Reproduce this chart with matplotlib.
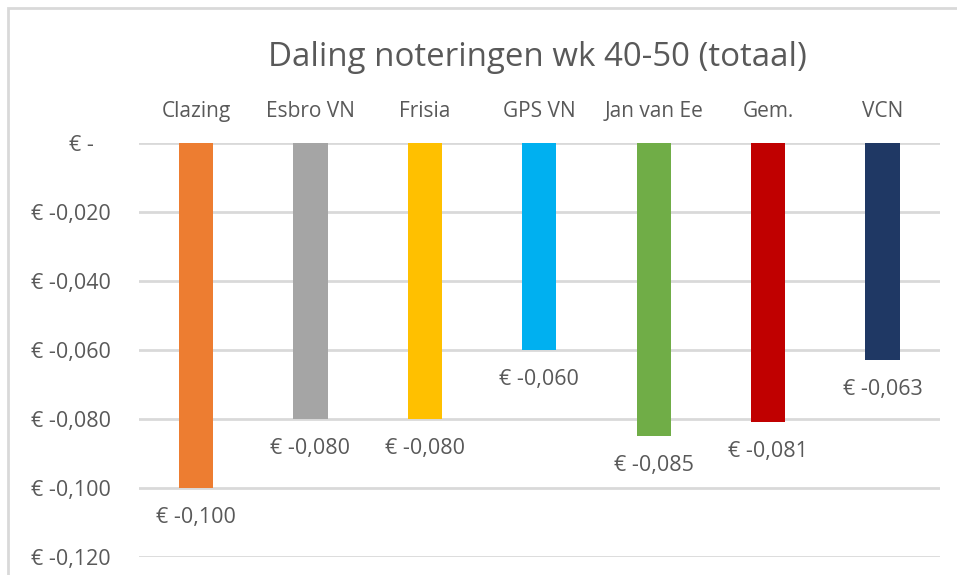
import matplotlib
matplotlib.use("Agg")
from matplotlib import pyplot as plt
from matplotlib.patches import Rectangle

plt.rcParams["font.family"] = ["Open Sans", "DejaVu Sans"]

# data
categories = ["Clazing", "Esbro VN", "Frisia", "GPS VN", "Jan van Ee", "Gem.", "VCN"]
values = [-0.100, -0.080, -0.080, -0.060, -0.085, -0.081, -0.063]
colors = ["#ED7D31", "#A5A5A5", "#FFC000", "#00B0F0", "#70AD47", "#C00000", "#1F3864"]
yticks = [0, -0.02, -0.04, -0.06, -0.08, -0.10, -0.12]

textGrey = "#595959"
gridGrey = "#D9D9D9"


def euro(v):
    if v == 0:
        return "€ -   "
    return "€ " + ("%.3f" % v).replace(".", ",")


fig = plt.figure(figsize=(9.57, 5.75), dpi=100)
ax = fig.add_axes([0.145, 0.0313, 0.837, 0.72])

x = range(len(categories))
ax.bar(x, values, width=0.3, color=colors, zorder=3)

for xi, v in zip(x, values):
    ax.annotate(euro(v), (xi, v), xytext=(0, -21), textcoords="offset points",
                ha="center", va="center", fontsize=15.5, color=textGrey)

ax.set_xlim(-0.5, len(categories) - 0.5)
ax.set_ylim(-0.12, 0)
ax.set_yticks(yticks)
ax.set_yticklabels([euro(v) for v in yticks])
ax.yaxis.grid(True, color=gridGrey, linewidth=2, zorder=0)

ax.xaxis.tick_top()
ax.set_xticks(list(x))
ax.set_xticklabels(categories)
ax.tick_params(axis="x", length=0, pad=15, labelsize=15, labelcolor=textGrey)
ax.tick_params(axis="y", length=0, pad=20, labelsize=15.5, labelcolor=textGrey)

for s in ax.spines.values():
    s.set_visible(False)

fig.text(0.5615, 0.9, "Daling noteringen wk 40-50 (totaal)", ha="center", va="center",
         fontsize=23.8, color=textGrey)

# chart area border (cropped at right and bottom)
fig.patches.append(Rectangle((8 / 957, -0.1), 1.2, 1 - 8 / 575 + 0.1,
                             transform=fig.transFigure, fill=False,
                             edgecolor=gridGrey, linewidth=2))

fig.savefig("out.png", dpi=100)
